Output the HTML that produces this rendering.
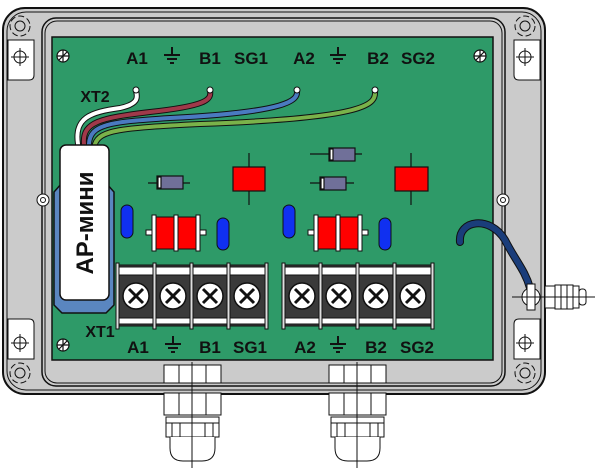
<!DOCTYPE html>
<html><head><meta charset="utf-8"><style>html,body{margin:0;padding:0;background:#fff}svg{display:block}</style></head><body>
<svg width="600" height="472" viewBox="0 0 600 472" xmlns="http://www.w3.org/2000/svg" font-family="Liberation Sans, sans-serif" font-weight="bold">
<rect x="3" y="8" width="542" height="386" rx="22" fill="#cbcbcb" stroke="#111" stroke-width="2"/>
<rect x="7" y="12" width="534" height="378" rx="19" fill="none" stroke="#111" stroke-width="1"/>
<rect x="42" y="18" width="463" height="368" rx="14" fill="#cbcbcb" stroke="#111" stroke-width="1.5"/>
<rect x="45" y="21" width="457" height="362" rx="12" fill="none" stroke="#111" stroke-width="1"/>
<g stroke="#111" fill="#fff">
<path d="M8 40 H34 V75 Q34 80 29 80 H8 Z"/>
<path d="M8 359 H34 V324 Q34 319 29 319 H8 Z"/>
<path d="M514 40 H540 V80 H519 Q514 80 514 75 Z"/>
<path d="M514 359 H540 V319 H519 Q514 319 514 324 Z"/>
</g>
<g fill="none" stroke="#111">
<circle cx="20" cy="26" r="5"/><circle cx="20" cy="26" r="10" stroke-dasharray="6 3"/>
<circle cx="20" cy="373" r="5"/><circle cx="20" cy="373" r="10" stroke-dasharray="6 3"/>
<circle cx="525" cy="26" r="5"/><circle cx="525" cy="26" r="10" stroke-dasharray="6 3"/>
<circle cx="525" cy="373" r="5"/><circle cx="525" cy="373" r="10" stroke-dasharray="6 3"/>
<circle cx="20" cy="57" r="6"/><path d="M11 57H29M20 48V66"/>
<circle cx="20" cy="343" r="6"/><path d="M11 343H29M20 334V352"/>
<circle cx="525" cy="57" r="6"/><path d="M516 57H534M525 48V66"/>
<circle cx="525" cy="343" r="6"/><path d="M516 343H534M525 334V352"/>
<circle cx="43" cy="200" r="6" fill="#fff"/><circle cx="43" cy="200" r="2.5"/>
<circle cx="503" cy="200" r="6" fill="#fff"/><circle cx="503" cy="200" r="2.5"/>
</g>
<rect x="52" y="37" width="441" height="323" fill="#2e9a68" stroke="#111" stroke-width="1.5"/>
<g fill="none" stroke="#111" stroke-width="1.2">
<circle cx="63" cy="56" r="6" fill="#fff"/><path d="M57 56H69M63 50V62M59 60L67 52"/>
<circle cx="480" cy="56" r="6" fill="#fff"/><path d="M474 56H486M480 50V62M476 60L484 52"/>
<circle cx="63" cy="345" r="6" fill="#fff"/><path d="M57 345H69M63 339V351M59 349L67 341"/>
</g>
<g font-size="17" fill="#111" text-anchor="middle">
<text x="137" y="64">A1</text><text x="210" y="64">B1</text><text x="251" y="64">SG1</text>
<text x="304" y="64">A2</text><text x="378" y="64">B2</text><text x="418" y="64">SG2</text>
<text x="138" y="353">A1</text><text x="210" y="353">B1</text><text x="250" y="353">SG1</text>
<text x="305" y="353">A2</text><text x="376" y="353">B2</text><text x="417" y="353">SG2</text>
<text x="95" y="102" font-size="16">XT2</text>
<text x="100" y="337" font-size="16">XT1</text>
</g>
<g stroke="#111" stroke-width="2" fill="none">
<path d="M172 47V55M164 55H180M167 59H177M170 63H174"/>
<path d="M338 47V55M330 55H346M333 59H343M336 63H340"/>
<path d="M173 336V344M165 344H181M168 348H178M171 352H175"/>
<path d="M338 336V344M330 344H346M333 348H343M336 352H340"/>
</g>
<g fill="none" stroke-linecap="round">
<path d="M78 144 C74 118 90 112 120 108 C138 104 138 98 136 91" stroke="#111" stroke-width="6"/>
<path d="M78 144 C74 118 90 112 120 108 C138 104 138 98 136 91" stroke="#fff" stroke-width="4"/>
<path d="M84 144 C82 122 100 118 150 112 C205 106 212 100 210 91" stroke="#111" stroke-width="6"/>
<path d="M84 144 C82 122 100 118 150 112 C205 106 212 100 210 91" stroke="#a0394a" stroke-width="4"/>
<path d="M89 144 C90 124 110 122 170 118 C290 112 298 100 297 91" stroke="#111" stroke-width="6"/>
<path d="M89 144 C90 124 110 122 170 118 C290 112 298 100 297 91" stroke="#4a7ac0" stroke-width="4"/>
<path d="M95 144 C100 130 120 128 200 124 C370 118 376 104 375 91" stroke="#111" stroke-width="6"/>
<path d="M95 144 C100 130 120 128 200 124 C370 118 376 104 375 91" stroke="#7ab24a" stroke-width="4"/>
</g>
<g fill="#fff" stroke="#111"><circle cx="136" cy="90" r="3"/><circle cx="210" cy="90" r="3"/><circle cx="297" cy="90" r="3"/><circle cx="375" cy="90" r="3"/></g>
<path d="M62 183 H106 L114 192 V305 L106 313 H62 L54 305 V192 Z" fill="#5a86c0" stroke="#111" stroke-width="1.5"/>
<rect x="60" y="145" width="49" height="155" rx="6" fill="#fff" stroke="#111" stroke-width="1.5"/>
<text transform="translate(93 223) rotate(-90)" text-anchor="middle" font-size="24" fill="#111">АР-мини</text>
<g stroke="#111" stroke-width="1.2">
<path d="M148 183H190M310 154H362M310 183H354"/>
<rect x="157" y="176" width="26" height="13" fill="#707099"/><rect x="158" y="177" width="3" height="11" fill="#fff"/>
<rect x="329" y="148" width="26" height="13" fill="#707099"/><rect x="330" y="149" width="3" height="11" fill="#fff"/>
<rect x="320" y="177" width="26" height="13" fill="#707099"/><rect x="321" y="178" width="3" height="11" fill="#fff"/>
<path d="M249 153V205M411 153V205"/>
<rect x="233" y="167" width="32" height="24" fill="#f00"/>
<rect x="395" y="167" width="33" height="24" fill="#f00"/>
</g>
<g fill="#1030f0" stroke="#111">
<rect x="121" y="205" width="12" height="33" rx="6"/>
<rect x="217" y="218" width="12" height="32" rx="6"/>
<rect x="283" y="205" width="12" height="33" rx="6"/>
<rect x="379" y="218" width="12" height="32" rx="6"/>
</g>
<g stroke="#111">
<rect x="146" y="230" width="60" height="5" fill="#fff"/>
<rect x="154" y="217" width="44" height="32" fill="#f00"/>
<rect x="152" y="215" width="4" height="36" fill="#fff"/><rect x="174" y="215" width="4" height="36" fill="#fff"/><rect x="196" y="215" width="4" height="36" fill="#fff"/>
<rect x="308" y="230" width="60" height="5" fill="#fff"/>
<rect x="316" y="217" width="44" height="32" fill="#f00"/>
<rect x="314" y="215" width="4" height="36" fill="#fff"/><rect x="336" y="215" width="4" height="36" fill="#fff"/><rect x="358" y="215" width="4" height="36" fill="#fff"/>
</g>
<g stroke="#111">
<rect x="117" y="265" width="150" height="61" fill="#3a3a3a"/>
<rect x="117" y="267" width="150" height="8" fill="#fff"/><rect x="117" y="318" width="150" height="6" fill="#fff"/>
<rect x="283" y="265" width="150" height="61" fill="#3a3a3a"/>
<rect x="283" y="267" width="150" height="8" fill="#fff"/><rect x="283" y="318" width="150" height="6" fill="#fff"/>
<g fill="#ddd" stroke-width="1">
<rect x="116" y="263" width="3" height="66"/><rect x="153" y="263" width="3" height="66"/><rect x="190" y="263" width="3" height="66"/><rect x="227" y="263" width="3" height="66"/><rect x="265" y="263" width="3" height="66"/>
<rect x="282" y="263" width="3" height="66"/><rect x="319" y="263" width="3" height="66"/><rect x="356" y="263" width="3" height="66"/><rect x="393" y="263" width="3" height="66"/><rect x="431" y="263" width="3" height="66"/>
</g>
</g>
<g stroke="#111">
<g fill="#fff" stroke-width="1.5">
<circle cx="136" cy="296" r="13"/><circle cx="173" cy="296" r="13"/><circle cx="210" cy="296" r="13"/><circle cx="247" cy="296" r="13"/>
<circle cx="302" cy="296" r="13"/><circle cx="339" cy="296" r="13"/><circle cx="376" cy="296" r="13"/><circle cx="413" cy="296" r="13"/>
</g>
<g stroke-width="3">
<path d="M129 289L143 303M143 289L129 303M166 289L180 303M180 289L166 303M203 289L217 303M217 289L203 303M240 289L254 303M254 289L240 303"/>
<path d="M295 289L309 303M309 289L295 303M332 289L346 303M346 289L332 303M369 289L383 303M383 289L369 303M406 289L420 303M420 289L406 303"/>
</g>
</g>
<path d="M460 242 C458 220 490 215 505 240 C515 260 525 270 530 288" fill="none" stroke="#111" stroke-width="8" stroke-linecap="round"/>
<path d="M460 242 C458 220 490 215 505 240 C515 260 525 270 530 288" fill="none" stroke="#1a3d7a" stroke-width="6" stroke-linecap="round"/>
<g stroke="#111" fill="#fff">
<circle cx="531" cy="297" r="9"/>
<rect x="527" y="284" width="8" height="26"/>
<rect x="545" y="286" width="10" height="22"/>
<rect x="555" y="285" width="6" height="24"/><rect x="561" y="285" width="6" height="24"/><rect x="567" y="285" width="6" height="24"/><rect x="573" y="286" width="6" height="22"/>
<rect x="579" y="289" width="7" height="16" rx="3"/>
<path d="M512 297H595" fill="none"/>
</g>
<g stroke="#111" fill="#fff" id="g1">
<rect x="164" y="365" width="57" height="18"/><path d="M179 365V383M206 365V383"/>
<rect x="164" y="393" width="57" height="22"/><path d="M179 393V415M206 393V415"/>
<rect x="166" y="417" width="53" height="6"/>
<rect x="166" y="423" width="53" height="14"/><path d="M172 423V437M180 423V437M205 423V437M213 423V437"/>
<path d="M170 437V448 Q170 461 183 461 H202 Q215 461 215 448 V437"/>
<path d="M192 362V468" fill="none"/>
</g>
<use href="#g1" x="165"/>
</svg>
</body></html>
